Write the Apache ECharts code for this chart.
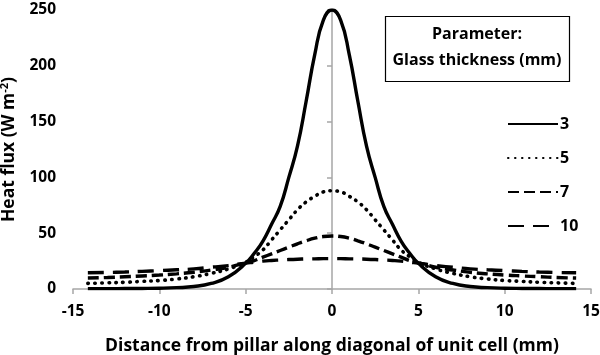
<!DOCTYPE html>
<html><head><meta charset="utf-8">
<script src="https://cdn.jsdelivr.net/npm/echarts@6/dist/echarts.min.js"></script>
<style>html,body{margin:0;padding:0;background:#fff}#c{width:600px;height:355px}</style>
</head><body><div id="c"></div>
<script>
// Distance along diagonal (mm)
const xs = [-14.14,-13,-12,-11,-10,-9,-8,-7,-6,-5,-4.5,-4,-3.5,-3,-2.5,-2,-1.5,-1,-0.5,0,0.5,1,1.5,2,2.5,3,3.5,4,4.5,5,6,7,8,9,10,11,12,13,14.14];
// Heat flux (W m-2) for each glass thickness
const t3  = [0.3,0.3,0.4,0.5,0.7,1.2,2.2,5,11,23,32,43,58,74,100,128,168,210,241,250,241,210,168,128,100,74,58,43,32,23,11,5,2.2,1.2,0.7,0.5,0.4,0.3,0.3];
const t5  = [5,5.5,6,6.8,7.6,9,11,14,18,24,29,35,44,53,62,71,78,83,87,88,87,83,78,71,62,53,44,35,29,24,18,14,11,9,7.6,6.8,6,5.5,5];
const t7  = [9.8,10.3,11,11.7,12.5,13.6,15,17,19.5,23.5,25.5,28.5,31.5,34.5,37.5,40.5,43.2,45.5,47,47.5,47,45.5,43.2,40.5,37.5,34.5,31.5,28.5,25.5,23.5,19.5,17,15,13.6,12.5,11.7,11,10.3,9.8];
const t10 = [14.5,14.8,15.2,15.8,16.5,17.2,18,19.5,21,23.2,24,25,25.6,26,26.4,26.7,26.9,27,27.2,27.2,27.2,27,26.9,26.7,26.4,26,25.6,25,24,23.2,21,19.5,18,17.2,16.5,15.8,15.2,14.8,14.5];
const names = ['3','5','7','10'];
const xTicks = [-15,-10,-5,0,5,10,15];
const yTicks = [0,50,100,150,200,250];

const F = '"Open Sans", "Noto Sans", sans-serif';
const pair = a => xs.map((x,i)=>[x,a[i]]);
const styles = [
  {type:'solid', width:3.4, cap:'butt'},
  {type:[0.5,6.5], width:3.6, cap:'round'},
  {type:[11,5], width:3.4, cap:'butt'},
  {type:[16,9], width:3.4, cap:'butt'}
];
const series = [t3,t5,t7,t10].map((a,i)=>({
  name:names[i], type:'line', data:pair(a), symbol:'none', smooth:true,
  lineStyle:Object.assign({color:'#000'}, styles[i]), itemStyle:{color:'#000'},
  animation:false, z: 10-i
}));

const chart = echarts.init(document.getElementById('c'));
chart.setOption({
  animation:false,
  grid:{left:73,right:9,top:10,bottom:66, containLabel:false, outerBoundsMode:'none'},
  xAxis:{type:'value', min:xTicks[0], max:xTicks[xTicks.length-1], interval:5,
    name:'Distance from pillar along diagonal of unit cell (mm)', nameLocation:'middle', nameGap:48,
    nameTextStyle:{fontFamily:F, fontWeight:'bold', fontSize:17.5, color:'#000'},
    axisLine:{lineStyle:{color:'#a6a6a6', width:1.5}},
    axisTick:{show:true, length:5, lineStyle:{color:'#a6a6a6', width:1.5}},
    axisLabel:{fontFamily:F, fontWeight:'bold', fontSize:15.5, color:'#000', margin:15},
    splitLine:{show:false}},
  yAxis:{type:'value', min:yTicks[0], max:yTicks[yTicks.length-1], interval:50,
    name:'{n|Heat flux (W m}{s|-2}{n|)}', nameLocation:'middle', nameGap:50, nameRotate:90,
    nameTextStyle:{rich:{n:{fontFamily:F, fontWeight:'bold', fontSize:17.5, color:'#000'},
                        s:{fontFamily:F, fontWeight:'bold', fontSize:11, color:'#000', verticalAlign:'top', padding:[0,0,9,0]}}},
    axisLine:{show:true, lineStyle:{color:'#a6a6a6', width:1.5}},
    axisTick:{show:true, length:5, lineStyle:{color:'#a6a6a6', width:1.5}},
    axisLabel:{fontFamily:F, fontWeight:'bold', fontSize:15.5, color:'#000', margin:17},
    splitLine:{show:false}},
  legend:{orient:'vertical', left:502, top:111, itemWidth:50, itemHeight:16, itemGap:18,
    itemStyle:{opacity:0},
    data:names, textStyle:{fontFamily:F, fontWeight:'bold', fontSize:16, color:'#000', padding:[0,0,0,-3]}},
  graphic:[
    {type:'rect', shape:{x:385.5, y:16.5, width:184, height:65}, style:{fill:'#fff', stroke:'#000', lineWidth:1.2}},
    {type:'text', style:{text:'Parameter:', x:477, y:34, align:'center', verticalAlign:'middle',
      font:'bold 16px '+F, fill:'#000'}},
    {type:'text', style:{text:'Glass thickness (mm)', x:477, y:60, align:'center', verticalAlign:'middle',
      font:'bold 16px '+F, fill:'#000'}}
  ],
  series:series
});
</script></body></html>
